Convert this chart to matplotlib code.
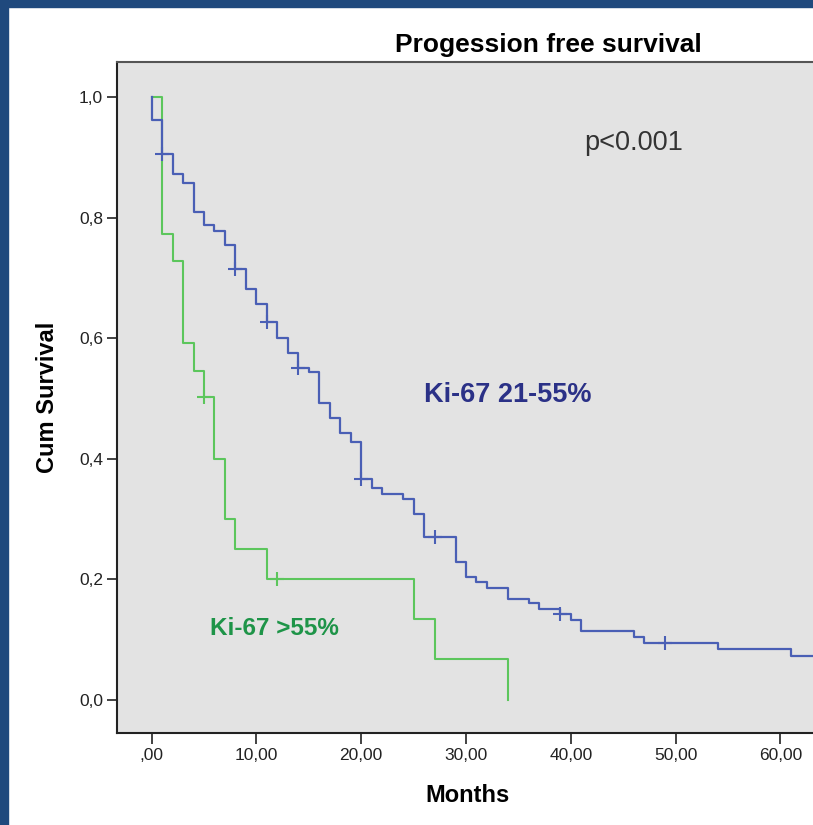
import matplotlib.pyplot as plt
from matplotlib.patches import Rectangle

plt.rcParams['font.family'] = ['Liberation Sans', 'DejaVu Sans']

# Ki-67 21-55% : event times and survival after each step
mid_times = [0, 1, 2, 3, 4, 5, 6, 7, 8, 9, 10, 11, 12, 13, 14, 15, 16, 17, 18, 19,
             20, 21, 22, 24, 25, 26, 29, 30, 31, 32, 34, 36, 37, 39, 40, 41, 46, 47, 54, 61]
mid_surv = [0.962, 0.905, 0.873, 0.858, 0.810, 0.788, 0.778, 0.755, 0.714, 0.681,
            0.657, 0.626, 0.601, 0.576, 0.551, 0.543, 0.493, 0.467, 0.443, 0.427,
            0.367, 0.351, 0.342, 0.333, 0.308, 0.270, 0.229, 0.203, 0.195, 0.186,
            0.167, 0.160, 0.151, 0.143, 0.133, 0.114, 0.104, 0.094, 0.085, 0.073]
mid_censor = [1, 8, 11, 14, 20, 27, 39, 49]
mid_last = 70

# Ki-67 >55%
high_times = [1, 2, 3, 4, 5, 6, 7, 8, 11, 25, 27, 34]
high_surv = [0.773, 0.728, 0.592, 0.546, 0.502, 0.400, 0.300, 0.251, 0.200, 0.134, 0.067, 0.0]
high_censor = [5, 12]

xticks = [0, 10, 20, 30, 40, 50, 60]
xtick_labels = [',00', '10,00', '20,00', '30,00', '40,00', '50,00', '60,00']
yticks = [0.0, 0.2, 0.4, 0.6, 0.8, 1.0]
ytick_labels = ['0,0', '0,2', '0,4', '0,6', '0,8', '1,0']

blue = '#4a5fb5'
green = '#5cc65c'


def step_value(times, surv, t):
    s = 1.0
    for ti, si in zip(times, surv):
        if ti <= t:
            s = si
    return s


W, H = 813, 825
fig = plt.figure(figsize=(W / 100, H / 100), dpi=100)
fig.patch.set_facecolor('white')

# dark blue slide border (left and top)
fig.patches.append(Rectangle((0, 0), 8 / W, 1, transform=fig.transFigure,
                             color='#1f497d', zorder=0))
fig.patches.append(Rectangle((0, 1 - 7 / H), 1, 7 / H, transform=fig.transFigure,
                             color='#1f497d', zorder=0))

x0, x1 = -3.3, 70
px_per = 10.48
left_px, bottom_px, top_px = 117, 733, 62
right_px = left_px + (x1 - x0) * px_per
ax = fig.add_axes([left_px / W, 1 - bottom_px / H,
                   (right_px - left_px) / W, (bottom_px - top_px) / H])
ax.set_facecolor('#e3e3e3')
ax.set_xlim(x0, x1)
ax.set_ylim(-0.055, 1.058)

# curves
ax.step([0] + mid_times + [mid_last], [1.0] + mid_surv + [mid_surv[-1]],
        where='post', color=blue, lw=1.6, zorder=3)
ax.step([0] + high_times, [1.0] + high_surv, where='post', color=green, lw=1.5, zorder=2)

ax.plot(mid_censor, [step_value(mid_times, mid_surv, t) for t in mid_censor],
        '+', color=blue, ms=10, mew=1.5, zorder=4)
ax.plot(high_censor, [step_value(high_times, high_surv, t) for t in high_censor],
        '+', color=green, ms=10, mew=1.5, zorder=4)

ax.set_xticks(xticks)
ax.set_xticklabels(xtick_labels)
ax.set_yticks(yticks)
ax.set_yticklabels(ytick_labels)
ax.tick_params(axis='x', direction='out', length=8, width=1.2, labelsize=12.5,
               pad=3, color='#222222', labelcolor='#222222')
ax.tick_params(axis='y', direction='out', length=7, width=1.2, labelsize=12.5,
               pad=3, color='#222222', labelcolor='#222222')

for side in ['left', 'bottom']:
    ax.spines[side].set_color('#222222')
    ax.spines[side].set_linewidth(1.5)
ax.spines['top'].set_color('#555555')
ax.spines['top'].set_linewidth(1.5)
ax.spines['right'].set_visible(False)

ax.text(41.3, 0.924, 'p<0.001', fontsize=19.5, color='#333333', va='center')
ax.text(26.0, 0.506, 'Ki-67 21-55%', fontsize=19.5, fontweight='bold',
        color='#2b3187', va='center')
ax.text(5.6, 0.119, 'Ki-67 >55%', fontsize=17.5, fontweight='bold',
        color='#1e9448', va='center')

fig.text(548 / W, 1 - 45 / H, 'Progession free survival', fontsize=19,
         fontweight='bold', ha='center', va='center')
fig.text(48 / W, 1 - 397 / H, 'Cum Survival', fontsize=17, fontweight='bold',
         rotation=90, ha='center', va='center')
fig.text(467 / W, 1 - 795 / H, 'Months', fontsize=17, fontweight='bold',
         ha='center', va='center')

fig.savefig('out.png', dpi=100)
